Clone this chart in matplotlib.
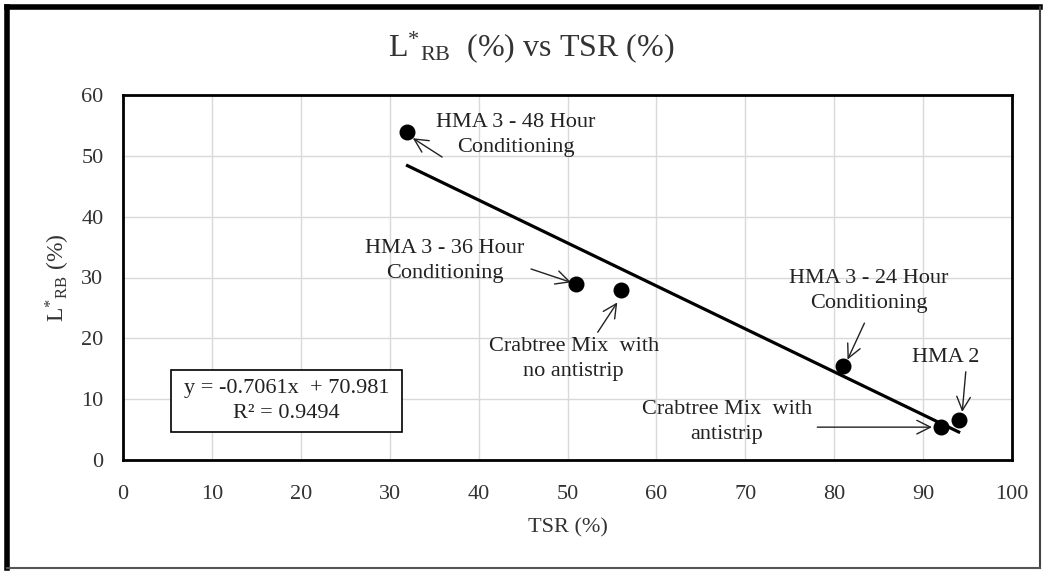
import matplotlib
matplotlib.use("Agg")
import matplotlib.pyplot as plt
from matplotlib.patches import Rectangle
from matplotlib.lines import Line2D

plt.rcParams["font.family"] = ["Liberation Serif", "DejaVu Serif"]
plt.rcParams["mathtext.fontset"] = "custom"
plt.rcParams["mathtext.rm"] = "Liberation Serif"
plt.rcParams["mathtext.it"] = "Liberation Serif:italic"

# measured mixes
tsr = [32, 51, 56, 81, 92, 94]
lrb = [54, 29, 28, 15.5, 5.5, 6.5]
names = [
    "HMA 3 - 48 Hour\nConditioning",
    "HMA 3 - 36 Hour\nConditioning",
    "Crabtree Mix  with\nno antistrip",
    "HMA 3 - 24 Hour\nConditioning",
    "Crabtree Mix  with\nantistrip",
    "HMA 2",
]

# linear trend as reported
slope = -0.7061
intercept = 70.981
r2 = 0.9494

x_ticks = list(range(0, 101, 10))
y_ticks = list(range(0, 61, 10))

# label centre, arrow tail, arrow head (data units)
callouts = [
    ((44.2, 53.4), (35.9, 49.8), (32.6, 52.9)),
    ((36.2, 32.7), (45.9, 31.4), (50.4, 29.2)),
    ((50.7, 16.6), (53.4, 21.0), (55.6, 25.9)),
    ((83.9, 27.8), (83.4, 22.5), (81.5, 16.5)),
    ((67.9, 6.2), (78.1, 5.4), (91.0, 5.4)),
    ((92.5, 16.9), (94.8, 14.5), (94.4, 7.9)),
]

FS = 16
INK = "#222222"
lrb_tex = r"L$^{*}{}_{\mathrm{RB}}$"

fig = plt.figure(figsize=(10.47, 5.74), dpi=100)
ax = fig.add_axes([123 / 1047, 1 - 460 / 574, 889 / 1047, 365 / 574])

ax.set_xlim(0, 100)
ax.set_ylim(0, 60)
ax.set_xticks(x_ticks)
ax.set_yticks(y_ticks)
ax.grid(True, color="#d9d9d9", linewidth=1.0)
ax.set_axisbelow(True)
ax.tick_params(length=0, labelsize=FS, colors="#333333")
ax.tick_params(axis="x", pad=18)
ax.tick_params(axis="y", pad=14)
for sp in ax.spines.values():
    sp.set_linewidth(2.0)
    sp.set_color("black")

ax.plot(tsr, lrb, "o", color="black", markersize=10.5, zorder=4)

x_fit = [min(tsr), max(tsr)]
y_fit = [slope * v + intercept for v in x_fit]
ax.plot(x_fit, y_fit, color="black", linewidth=2.3, zorder=3)

for name, (pos, tail, head) in zip(names, callouts):
    ax.text(pos[0], pos[1], name, ha="center", va="center",
            multialignment="center", fontsize=FS, color=INK,
            linespacing=1.45)
    ax.annotate("", xy=head, xytext=tail,
                arrowprops=dict(arrowstyle="->,head_length=0.7,head_width=0.35",
                                color=INK, linewidth=1.0,
                                shrinkA=0, shrinkB=0, mutation_scale=14))

# equation box
ax.add_patch(Rectangle((48 / 889, 28 / 365), 231 / 889, 62 / 365,
                       transform=ax.transAxes, facecolor="white",
                       edgecolor="black", linewidth=1.2, zorder=5))
eq = f"y = {slope}x  + {intercept}\nR² = {r2}"
ax.text(0.184, 0.162, eq, transform=ax.transAxes, ha="center", va="center",
        multialignment="center", fontsize=FS, color=INK, zorder=6,
        linespacing=1.45)

ax.set_xlabel("TSR (%)", fontsize=FS, color="#333333")
ax.set_ylabel(lrb_tex + " (%)", fontsize=17, color="#333333")
ax.xaxis.set_label_coords(0.5, -0.16)
ax.yaxis.set_label_coords(-0.057, 0.5)

fig.text(0.507, 1 - 47 / 574, lrb_tex + "  (%) vs TSR (%)",
         ha="center", va="center", fontsize=23, color="#333333")

# outer chart frame
W, H = 1047, 574
frame = [
    ((7 / W, 7 / W), (1 - 7 / H, 1 - 568 / H), 4.0, "black"),
    ((7 / W, 1040 / W), (1 - 7 / H, 1 - 7 / H), 4.0, "black"),
    ((1040 / W, 1040 / W), (1 - 7 / H, 1 - 568 / H), 1.5, "#444444"),
    ((7 / W, 1040 / W), (1 - 568 / H, 1 - 568 / H), 1.5, "#555555"),
]
for xs, ys, lw, c in frame:
    fig.add_artist(Line2D(xs, ys, transform=fig.transFigure,
                          linewidth=lw, color=c))

fig.savefig("out.png", dpi=100)
